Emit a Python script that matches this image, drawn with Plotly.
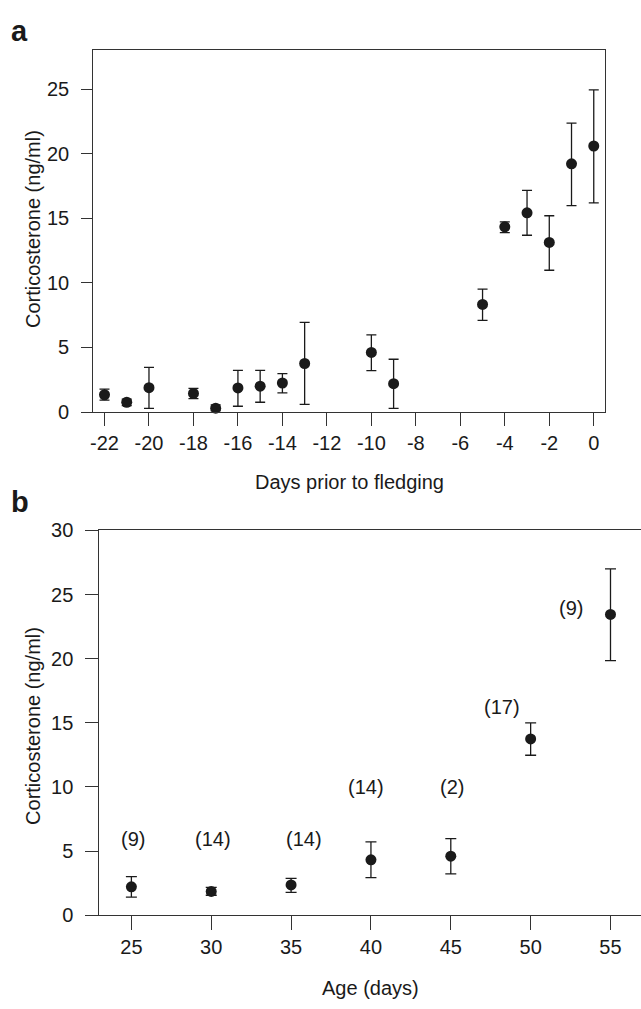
import plotly.graph_objects as go

# ---- Panel a data ----
days = [-22, -21, -20, -18, -17, -16, -15, -14, -13, -10, -9, -5, -4, -3, -2, -1, 0]
cort_a = [1.34, 0.76, 1.89, 1.44, 0.30, 1.87, 2.00, 2.25, 3.76, 4.62, 2.20, 8.33, 14.34, 15.43, 13.13, 19.22, 20.60]
upper_a = [1.77, 1.00, 3.46, 1.84, 0.55, 3.23, 3.23, 2.98, 6.94, 5.98, 4.09, 9.52, 14.72, 17.17, 15.20, 22.37, 24.95]
lower_a = [0.93, 0.50, 0.28, 1.04, 0.10, 0.45, 0.76, 1.49, 0.60, 3.21, 0.28, 7.10, 13.89, 13.69, 10.98, 15.98, 16.20]
xticks_a = [-22, -20, -18, -16, -14, -12, -10, -8, -6, -4, -2, 0]
yticks_a = [0, 5, 10, 15, 20, 25]

# ---- Panel b data ----
age = [25, 30, 35, 40, 45, 50, 55]
cort_b = [2.21, 1.85, 2.36, 4.31, 4.60, 13.74, 23.45]
upper_b = [3.00, 2.16, 2.87, 5.72, 5.97, 14.99, 27.00]
lower_b = [1.40, 1.55, 1.78, 2.92, 3.22, 12.47, 19.84]
n_labels = ["(9)", "(14)", "(14)", "(14)", "(2)", "(17)", "(9)"]
n_label_x = [25.1, 30.1, 35.8, 39.7, 45.1, 48.2, 52.55]
n_label_y = [5.92, 5.92, 5.92, 10.0, 10.0, 16.2, 23.97]
xticks_b = [25, 30, 35, 40, 45, 50, 55]
yticks_b = [0, 5, 10, 15, 20, 25, 30]

W, H = 641, 1009
FONT = "Liberation Sans, Arial, Helvetica, sans-serif"
INK = "#1a1a1a"
LINE = "#333333"

def px_x(p):
    return p / W

def px_y(p):
    return 1 - p / H

fig = go.Figure()

fig.add_trace(go.Scatter(
    x=days, y=cort_a, mode="markers",
    marker=dict(size=11, color=INK),
    error_y=dict(type="data", symmetric=False,
                 array=[u - m for u, m in zip(upper_a, cort_a)],
                 arrayminus=[m - l for m, l in zip(cort_a, lower_a)],
                 color=INK, thickness=1.3, width=5),
    xaxis="x", yaxis="y", showlegend=False, cliponaxis=False))

fig.add_trace(go.Scatter(
    x=age, y=cort_b, mode="markers",
    marker=dict(size=11, color=INK),
    error_y=dict(type="data", symmetric=False,
                 array=[u - m for u, m in zip(upper_b, cort_b)],
                 arrayminus=[m - l for m, l in zip(cort_b, lower_b)],
                 color=INK, thickness=1.3, width=5.5),
    xaxis="x2", yaxis="y2", showlegend=False, cliponaxis=False))

axis_common = dict(showgrid=False, zeroline=False, showline=True, linecolor=LINE,
                   linewidth=1.3, ticks="outside", tickcolor=LINE, tickwidth=1.3,
                   tickfont=dict(family=FONT, size=20, color=INK))

fig.update_layout(
    width=W, height=H, autosize=False,
    margin=dict(l=0, r=0, t=0, b=0),
    paper_bgcolor="white", plot_bgcolor="white",
    font=dict(family=FONT, size=20, color=INK),
    xaxis=dict(domain=[px_x(90.8), px_x(604.7)], range=[-22.5, 0.5],
               tickvals=xticks_a, ticktext=[str(v) for v in xticks_a],
               ticklen=13, mirror=True, anchor="y", **axis_common),
    yaxis=dict(domain=[px_y(410), px_y(40.3)], range=[0, 28],
               tickvals=yticks_a, ticklen=11, mirror=True, anchor="x",
               ticklabelstandoff=8, **axis_common),
    xaxis2=dict(domain=[px_x(96.9), 1.0], range=[23, 56.91],
                tickvals=xticks_b, ticklen=14, mirror=True, anchor="y2",
                **axis_common),
    yaxis2=dict(domain=[px_y(924.3), px_y(531)], range=[0, 30],
                tickvals=yticks_b, ticklen=13, mirror=False, anchor="x2",
                ticklabelstandoff=8, **axis_common),
)

def label(text, x, y, size=20, angle=0, xref="paper", yref="paper"):
    return dict(text=text, x=x, y=y, xref=xref, yref=yref, showarrow=False,
                xanchor="center", yanchor="middle", textangle=angle,
                font=dict(family=FONT, size=size, color=INK))

annotations = [
    label("<b>a</b>", px_x(16.7), px_y(20), size=29),
    label("<b>b</b>", px_x(17), px_y(502), size=29),
    label("Days prior to fledging", px_x(347.7), px_y(482)),
    label("Age (days)", px_x(369), px_y(999)),
    label("Corticosterone (ng/ml)", px_x(30), px_y(223), angle=-90),
    label("Corticosterone (ng/ml)", px_x(30), px_y(731), angle=-90),
]
for t, xv, yv in zip(n_labels, n_label_x, n_label_y):
    annotations.append(label(t, xv, yv, xref="x2", yref="y2"))
fig.update_layout(annotations=annotations)

fig.write_html("out.html", config={"displayModeBar": False},
               post_script="document.body.style.margin='0';document.body.style.overflow='hidden';")
